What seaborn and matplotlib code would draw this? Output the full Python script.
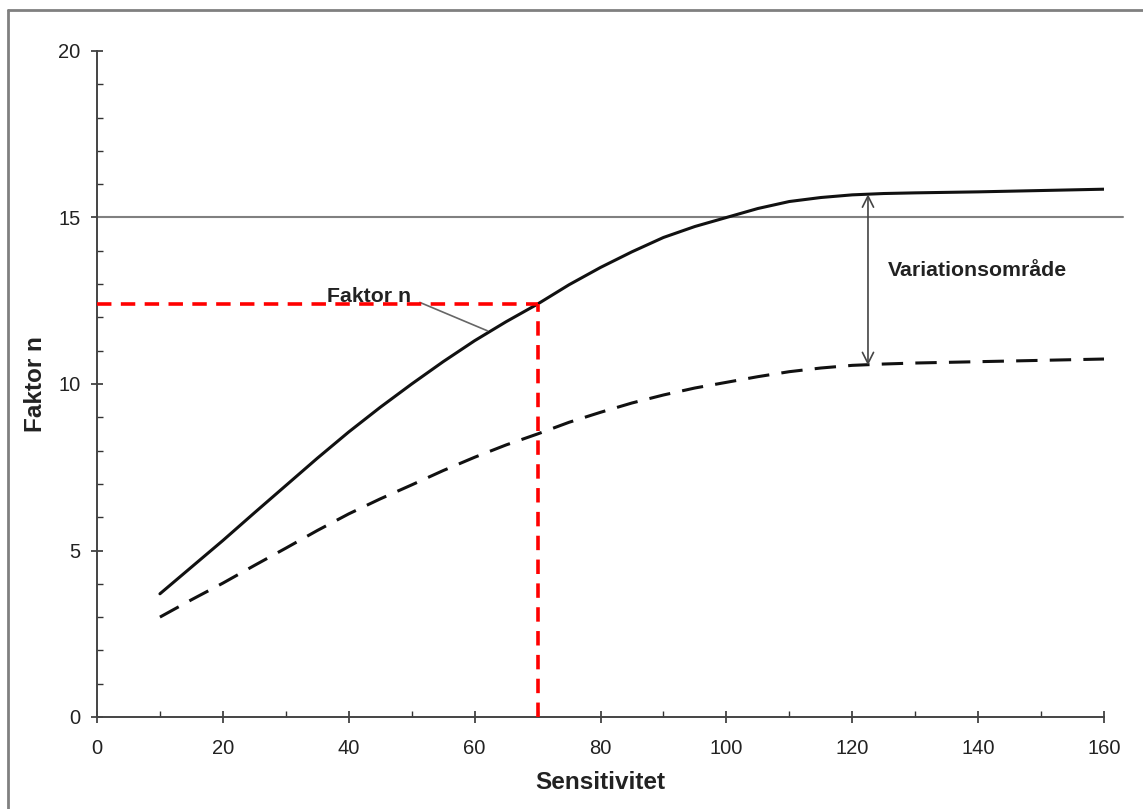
import matplotlib
matplotlib.use("Agg")
import matplotlib.pyplot as plt
from matplotlib.lines import Line2D
from matplotlib.ticker import MultipleLocator
import seaborn as sns
import pandas as pd

sensitivitet = [10, 15, 20, 25, 30, 35, 40, 45, 50, 55, 60, 65, 70, 75, 80, 85, 90, 95,
                100, 105, 110, 115, 120, 125, 130, 140, 150, 160]
faktor_upper = [3.7, 4.5, 5.3, 6.13, 6.95, 7.77, 8.56, 9.3, 10.0, 10.67, 11.3, 11.87, 12.4,
                12.98, 13.5, 13.97, 14.4, 14.73, 15.0, 15.27, 15.48, 15.6, 15.68, 15.72,
                15.74, 15.77, 15.81, 15.85]
faktor_lower = [3.0, 3.52, 4.02, 4.55, 5.07, 5.6, 6.1, 6.55, 6.97, 7.4, 7.8, 8.17, 8.5,
                8.85, 9.15, 9.43, 9.67, 9.88, 10.05, 10.22, 10.37, 10.48, 10.56, 10.6,
                10.63, 10.67, 10.71, 10.75]
x_ticks = [0, 20, 40, 60, 80, 100, 120, 140, 160]
y_ticks = [0, 5, 10, 15, 20]
limit_value = 15
marked_x = 70
marked_y = 12.4
range_x = 122.5
range_low = 10.56
range_high = 15.7

sns.set_theme(style="white")
plt.rcParams['font.family'] = ['Liberation Sans', 'DejaVu Sans']

df = pd.DataFrame({
    "Sensitivitet": sensitivitet * 2,
    "Faktor": faktor_upper + faktor_lower,
    "Kurva": ["övre"] * len(sensitivitet) + ["undre"] * len(sensitivitet),
})

fig = plt.figure(figsize=(11.43, 8.09), dpi=100)
ax = fig.add_axes([97 / 1143, 1 - 717 / 809, (1104 - 97) / 1143, (717 - 51) / 809])

sns.lineplot(data=df[df.Kurva == "övre"], x="Sensitivitet", y="Faktor", ax=ax,
             color="#111111", linewidth=2.2, legend=False)
sns.lineplot(data=df[df.Kurva == "undre"], x="Sensitivitet", y="Faktor", ax=ax,
             color="#111111", linewidth=2.2, legend=False)
ax.lines[-1].set_linestyle((0, (7, 4)))

# limit line at 15
ax.plot([0, 163], [limit_value, limit_value], color="#808080", linewidth=1.5,
        clip_on=False, zorder=1)

# red dashed guide lines
ax.plot([0, marked_x], [marked_y, marked_y], color="#ff0000", linewidth=2.6,
        linestyle=(0, (4, 2.6)), zorder=3)
ax.plot([marked_x, marked_x], [0, marked_y], color="#ff0000", linewidth=2.6,
        linestyle=(0, (4, 2.6)), zorder=3)

# variation range arrow
ax.annotate("", xy=(range_x, range_high), xytext=(range_x, range_low),
            arrowprops=dict(arrowstyle="<->", color="#444444", lw=1.2,
                            shrinkA=0, shrinkB=0, mutation_scale=20))
ax.text(125.7, 13.4, "Variationsområde", fontsize=15.3, fontweight="bold",
        color="#222222", ha="left", va="center")

# Faktor n label with leader line
ax.text(36.6, 12.64, "Faktor n", fontsize=15.3, fontweight="bold",
        color="#222222", ha="left", va="center")
ax.plot([51.3, 62.0], [12.45, 11.6], color="#666666", linewidth=1.2)

ax.set_xlim(0, 160)
ax.set_ylim(0, 20)
ax.set_xticks(x_ticks)
ax.set_yticks(y_ticks)
ax.xaxis.set_minor_locator(MultipleLocator(10))
ax.yaxis.set_minor_locator(MultipleLocator(1))
ax.tick_params(axis="both", which="major", direction="inout", length=8, width=1.2,
               color="#333333", labelsize=14.5, labelcolor="#222222", bottom=True, left=True)
ax.tick_params(axis="x", which="major", pad=12)
ax.tick_params(axis="y", which="major", pad=8)
ax.tick_params(axis="both", which="minor", direction="in", length=4, width=1.0,
               color="#333333", bottom=True, left=True)

for s in ["top", "right"]:
    ax.spines[s].set_visible(False)
for s in ["left", "bottom"]:
    ax.spines[s].set_color("#444444")
    ax.spines[s].set_linewidth(1.4)

ax.set_xlabel("Sensitivitet", fontsize=17.5, fontweight="bold", color="#222222")
ax.set_ylabel("Faktor n", fontsize=17.5, fontweight="bold", color="#222222")
ax.xaxis.set_label_coords(0.5, -0.081)
ax.yaxis.set_label_coords(-0.050, 0.5)

# figure frame
fig.add_artist(Line2D([8 / 1143, 1.0], [1 - 10 / 809, 1 - 10 / 809], color="#808080",
                      linewidth=2, transform=fig.transFigure))
fig.add_artist(Line2D([8 / 1143, 8 / 1143], [1 - 10 / 809, 0.0], color="#808080",
                      linewidth=2, transform=fig.transFigure))

fig.savefig("out.png", dpi=100)
